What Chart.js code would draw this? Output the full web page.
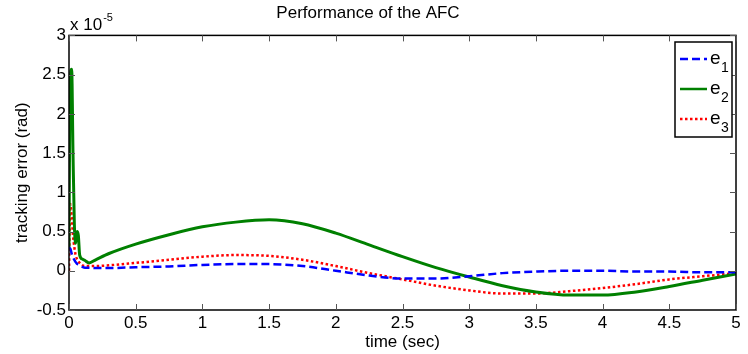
<!DOCTYPE html>
<html>
<head>
<meta charset="utf-8">
<script src="https://cdn.jsdelivr.net/npm/chart.js@4/dist/chart.umd.min.js"></script>
<style>
  html, body { margin: 0; padding: 0; background: #fff; }
  #wrap { width: 748px; height: 354px; position: relative; }
</style>
</head>
<body>
<div id="wrap"><canvas id="chart"></canvas></div>
<script>
/* data, in units of 1e-5 rad */
const timeSec = [0, 0.005, 0.01, 0.02, 0.03, 0.04, 0.05, 0.06, 0.07, 0.08, 0.1, 0.12, 0.15, 0.2, 0.3,
  0.5, 0.75, 1.0, 1.25, 1.5, 1.75, 2.0, 2.25, 2.5, 2.75, 3.0, 3.25, 3.5, 3.75, 4.0, 4.25, 4.5, 4.75, 5.0];
const e1 = [0.30, 0.29, 0.28, 0.22, 0.17, 0.14, 0.11, 0.09, 0.08, 0.07, 0.05, 0.04, 0.04, 0.035, 0.035,
  0.045, 0.055, 0.075, 0.085, 0.085, 0.06, 0.0, -0.06, -0.10, -0.10, -0.07, -0.03, -0.01, 0.0, 0.0, -0.01, -0.01, -0.02, -0.02];
const e2 = [0.30, 1.80, 2.45, 2.57, 1.50, 0.60, 0.35, 0.50, 0.45, 0.20, 0.15, 0.13, 0.10, 0.14, 0.22,
  0.34, 0.46, 0.56, 0.62, 0.65, 0.60, 0.48, 0.33, 0.18, 0.04, -0.08, -0.19, -0.27, -0.31, -0.31, -0.27, -0.20, -0.12, -0.04];
const e3 = [0.0, 0.50, 0.85, 0.70, 0.45, 0.30, 0.20, 0.15, 0.12, 0.10, 0.07, 0.06, 0.06, 0.06, 0.07,
  0.10, 0.14, 0.18, 0.20, 0.19, 0.14, 0.06, -0.03, -0.11, -0.19, -0.25, -0.29, -0.29, -0.26, -0.22, -0.17, -0.11, -0.07, -0.03];
const seriesNames = ['1', '2', '3'];   // subscripts of e
const xTicks = [0, 0.5, 1, 1.5, 2, 2.5, 3, 3.5, 4, 4.5, 5];
const yTicks = [-0.5, 0, 0.5, 1, 1.5, 2, 2.5, 3];

const FONT = "'Liberation Sans', Arial, Helvetica, sans-serif";

function pts(ys) { return timeSec.map((t, i) => ({ x: t, y: ys[i] })); }

const styles = [
  { color: '#0000ff', dash: [8, 4] },
  { color: '#008000', dash: [] },
  { color: '#ff0000', dash: [2.5, 2.5] }
];

// frame, inward ticks, exponent label, legend (matlab look)
const matlabFrame = {
  id: 'matlabFrame',
  afterDatasetsDraw(chart) {
    const { ctx, chartArea: a, scales: { x, y } } = chart;
    ctx.save();
    ctx.strokeStyle = '#000';
    ctx.lineWidth = 1.5;
    ctx.strokeRect(a.left, a.top, a.right - a.left, a.bottom - a.top);
    ctx.lineWidth = 1;
    ctx.strokeStyle = '#555';
    ctx.beginPath();
    xTicks.forEach(v => {
      const px = Math.round(x.getPixelForValue(v)) + 0.5;
      ctx.moveTo(px, a.bottom); ctx.lineTo(px, a.bottom - 6);
      ctx.moveTo(px, a.top); ctx.lineTo(px, a.top + 6);
    });
    yTicks.forEach(v => {
      const py = Math.round(y.getPixelForValue(v)) + 0.5;
      ctx.moveTo(a.left, py); ctx.lineTo(a.left + 6, py);
      ctx.moveTo(a.right, py); ctx.lineTo(a.right - 6, py);
    });
    ctx.stroke();

    // x 10^-5
    ctx.fillStyle = '#000';
    ctx.textBaseline = 'alphabetic';
    ctx.textAlign = 'left';
    ctx.font = '17px ' + FONT;
    ctx.fillText('x 10', a.left + 1, a.top - 5);
    const w = ctx.measureText('x 10').width;
    ctx.font = '11px ' + FONT;
    ctx.fillText('-5', a.left + w + 2, a.top - 14);

    // legend
    const lx = 675, ly = 42, lw = 57, lh = 95;
    ctx.fillStyle = '#fff';
    ctx.fillRect(lx, ly, lw, lh);
    ctx.strokeStyle = '#000';
    ctx.lineWidth = 1.5;
    ctx.strokeRect(lx, ly, lw, lh);
    const rows = [59, 89, 119];
    styles.forEach((s, i) => {
      ctx.strokeStyle = s.color;
      ctx.lineWidth = 2.5;
      ctx.setLineDash(s.dash);
      ctx.beginPath();
      ctx.moveTo(680, rows[i]); ctx.lineTo(707, rows[i]);
      ctx.stroke();
      ctx.setLineDash([]);
      ctx.fillStyle = '#000';
      ctx.font = '19px ' + FONT;
      ctx.fillText('e', 710, rows[i] + 5);
      ctx.font = '14px ' + FONT;
      ctx.fillText(seriesNames[i], 721, rows[i] + 13);
    });
    ctx.restore();
  }
};

new Chart(document.getElementById('chart'), {
  type: 'line',
  data: {
    datasets: [e1, e2, e3].map((d, i) => ({
      label: 'e' + seriesNames[i],
      data: pts(d),
      borderColor: styles[i].color,
      borderDash: styles[i].dash,
      borderWidth: i === 1 ? 3 : 2.5,
      pointRadius: 0,
      cubicInterpolationMode: 'monotone',
      fill: false
    }))
  },
  options: {
    responsive: true,
    maintainAspectRatio: false,
    animation: false,
    layout: { padding: { top: 0, right: 12, bottom: 0, left: 0 } },
    plugins: {
      legend: { display: false },
      tooltip: { enabled: false },
      title: {
        display: true,
        text: 'Performance of the AFC',
        color: '#000',
        font: { family: FONT, size: 17, weight: 'normal' },
        padding: { top: 3, bottom: 12 }
      }
    },
    scales: {
      x: {
        type: 'linear',
        min: 0, max: 5,
        afterBuildTicks: s => { s.ticks = xTicks.map(v => ({ value: v })); },
        grid: { display: false, drawTicks: false },
        border: { display: false },
        ticks: { color: '#000', font: { family: FONT, size: 17 }, padding: 3, maxRotation: 0,
                 callback: v => String(v) },
        title: { display: true, text: 'time (sec)', color: '#000', font: { family: FONT, size: 17 }, padding: { top: 0, bottom: 1 } },
        afterFit: s => { s.height = 44; }
      },
      y: {
        min: -0.5, max: 3,
        afterBuildTicks: s => { s.ticks = yTicks.map(v => ({ value: v })); },
        grid: { display: false, drawTicks: false },
        border: { display: false },
        ticks: { color: '#000', font: { family: FONT, size: 17 }, padding: 3,
                 callback: v => String(v) },
        title: { display: true, text: 'tracking error (rad)', color: '#000', font: { family: FONT, size: 17 }, padding: { top: 12, bottom: 0 } },
        afterFit: s => { s.width = 69; }
      }
    }
  },
  plugins: [matlabFrame]
});
</script>
</body>
</html>
